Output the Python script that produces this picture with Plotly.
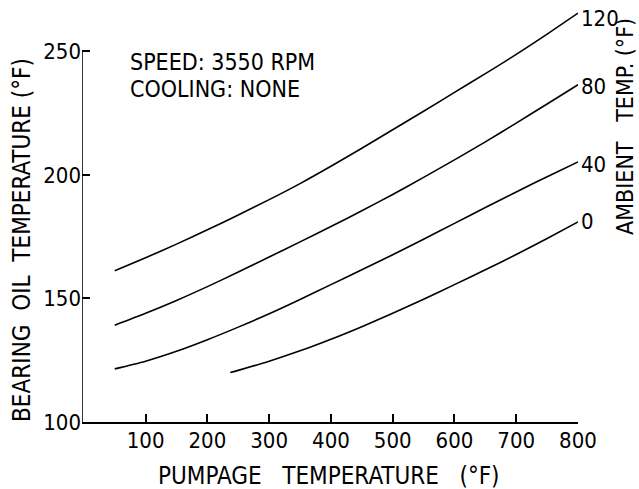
import plotly.graph_objects as go

# Pumpage temperature (°F) and bearing oil temperature (°F) per ambient temperature curve
x_120 = [50, 100, 150, 200, 250, 300, 350, 400, 450, 500, 550, 600, 650, 700, 750, 800]
y_120 = [161.2, 166.5, 172, 177.8, 183.8, 190, 196.5, 203.5, 210.8, 218.3, 225.8, 233.4, 241, 248.8, 257, 265.5]

x_80 = [50, 100, 150, 200, 250, 300, 350, 400, 450, 500, 550, 600, 650, 700, 750, 800]
y_80 = [139.2, 144, 149.2, 154.8, 160.7, 166.8, 172.9, 179.1, 185.5, 192.1, 199, 206.1, 213.4, 221, 228.7, 236.5]

x_40 = [50, 100, 150, 200, 250, 300, 350, 400, 450, 500, 550, 600, 650, 700, 750, 800]
y_40 = [121.5, 124.6, 128.6, 133.3, 138.4, 143.8, 149.6, 155.6, 161.6, 167.7, 174, 180.4, 186.8, 193.1, 199.3, 205.3]

x_0 = [237, 250, 300, 350, 400, 450, 500, 550, 600, 650, 700, 750, 800]
y_0 = [120, 120.9, 124.6, 128.8, 133.5, 138.6, 144, 149.7, 155.6, 161.6, 167.8, 174.3, 181]

curve_labels = ["120", "80", "40", "0"]
label_yshift = [-5, -2, -3, 0]

x_ticks = [100, 200, 300, 400, 500, 600, 700, 800]
y_ticks = [100, 150, 200, 250]

FONT = "Liberation Sans Narrow, DejaVu Sans Condensed, Liberation Sans, sans-serif"
NB = "\u00a0"

fig = go.Figure()
series = [(x_120, y_120), (x_80, y_80), (x_40, y_40), (x_0, y_0)]
for (xs, ys) in series:
    fig.add_trace(go.Scatter(x=xs, y=ys, mode="lines",
                             line=dict(color="black", width=1.6, shape="spline", smoothing=0.8),
                             showlegend=False, hoverinfo="skip"))

for (xs, ys), lab, ysh in zip(series, curve_labels, label_yshift):
    fig.add_annotation(x=xs[-1], y=ys[-1], xref="x", yref="y", text=lab, showarrow=False,
                       xanchor="left", yanchor="middle", xshift=1, yshift=ysh,
                       font=dict(family=FONT, size=22, color="black"))

# y axis line only up to 250
fig.add_shape(type="line", xref="x", yref="y", x0=-3, x1=-3, y0=100, y1=250,
              line=dict(color="black", width=1.6))

fig.add_annotation(xref="paper", yref="paper", x=0.0928, y=0.858, text="SPEED: 3550 RPM",
                   showarrow=False, xanchor="left", yanchor="middle",
                   font=dict(family=FONT, size=23, color="black"))
fig.add_annotation(xref="paper", yref="paper", x=0.0928, y=0.7935, text="COOLING: NONE",
                   showarrow=False, xanchor="left", yanchor="middle",
                   font=dict(family=FONT, size=23, color="black"))

fig.add_annotation(xref="paper", yref="paper", x=0.4975, y=-0.1295,
                   text="PUMPAGE" + NB * 3 + "TEMPERATURE" + NB * 3 + "(°F)",
                   showarrow=False, xanchor="center", yanchor="middle",
                   font=dict(family=FONT, size=24, color="black"))
fig.add_annotation(xref="paper", yref="paper", x=-0.121, y=0.4334,
                   text="BEARING" + NB * 2 + "OIL" + NB * 2 + "TEMPERATURE" + NB + "(°F)",
                   showarrow=False, xanchor="center", yanchor="middle", textangle=-90,
                   font=dict(family=FONT, size=24, color="black"))
fig.add_annotation(xref="paper", yref="paper", x=1.1235, y=0.703,
                   text="AMBIENT" + NB * 3 + "TEMP." + NB + "(°F)",
                   showarrow=False, xanchor="right", yanchor="middle", textangle=-90,
                   font=dict(family=FONT, size=23, color="black"))

fig.update_layout(
    width=639, height=489,
    margin=dict(l=82, r=61.3, t=2.4, b=67.3),
    paper_bgcolor="white", plot_bgcolor="white",
    xaxis=dict(range=[-3, 800], tickvals=x_ticks, ticktext=[str(v) for v in x_ticks],
               ticks="inside", ticklen=8, tickwidth=1.5, tickcolor="black",
               showline=True, linecolor="black", linewidth=1.6,
               showgrid=False, zeroline=False, ticklabelstandoff=-2,
               tickfont=dict(family=FONT, size=22, color="black")),
    yaxis=dict(range=[100, 270], tickvals=y_ticks, ticktext=[str(v) for v in y_ticks],
               ticks="inside", ticklen=8, tickwidth=1.5, tickcolor="black",
               showline=False, showgrid=False, zeroline=False,
               tickfont=dict(family=FONT, size=22, color="black")),
)

fig.write_html("out.html", config={"displayModeBar": False},
               post_script="document.body.style.margin='0px';document.body.style.overflow='hidden';")
